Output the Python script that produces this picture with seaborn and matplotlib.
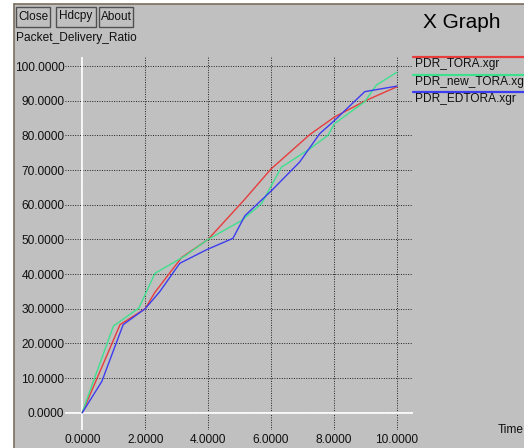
import numpy as np
import pandas as pd
import matplotlib
matplotlib.use("Agg")
import matplotlib.pyplot as plt
from matplotlib.patches import Rectangle
from matplotlib.lines import Line2D
import seaborn as sns

# traced series (time vs packet delivery ratio)
tora_x = [0, 1.2, 2.0, 2.3, 3.15, 4.0, 5.17, 6.0, 7.23, 8.02, 9.03, 10.0]
tora_y = [0, 25.4, 30, 34.6, 44.7, 50, 61.6, 70.3, 80.2, 85.3, 90.1, 94]

new_tora_x = [0, 0.14, 0.99, 1.8, 2.31, 3.26, 4.0, 5.06, 5.7, 6.01, 6.33, 7.23, 7.81, 8.02, 8.98, 9.35, 10.0]
new_tora_y = [0, 3.7, 25, 30.2, 40.2, 45.2, 50, 55.4, 60.3, 65.5, 70.8, 76.1, 80, 83.4, 89.7, 94.5, 98.2]

edtora_x = [0, 0.62, 1.3, 2.0, 2.47, 3.1, 3.95, 4.79, 5.17, 6.01, 6.91, 7.55, 8.02, 8.98, 10.0]
edtora_y = [0, 9, 25.4, 30, 35, 43.1, 47, 50.3, 56.8, 64, 72.3, 80.5, 84.3, 92.6, 94.2]

series_names = ["PDR_TORA.xgr", "PDR_new_TORA.xgr", "PDR_EDTORA.xgr"]
series_colors = ["#e83c3c", "#3ee08e", "#3c3cf0"]

x_ticks = [0, 2, 4, 6, 8, 10]
y_ticks = [0, 10, 20, 30, 40, 50, 60, 70, 80, 90, 100]

df = pd.concat([
    pd.DataFrame({"time": tora_x, "pdr": tora_y, "file": series_names[0]}),
    pd.DataFrame({"time": new_tora_x, "pdr": new_tora_y, "file": series_names[1]}),
    pd.DataFrame({"time": edtora_x, "pdr": edtora_y, "file": series_names[2]}),
])

sns.set_theme(style="white")
plt.rcParams["font.family"] = ["Liberation Sans", "DejaVu Sans"]

BG = "#c0c0c0"
W, H = 524, 448
fig = plt.figure(figsize=(W / 100, H / 100), dpi=100, facecolor=BG)

def px(x, y):
    # pixel coords (from top-left) to figure fraction
    return x / W, 1 - y / H

# window frame: white strip left/top with dark edge
fig.patches.append(Rectangle((0, 0), 14 / W, 1, transform=fig.transFigure,
                             facecolor="white", edgecolor="none", zorder=0))
fig.patches.append(Rectangle((0, 1 - 4.5 / H), 1, 4.5 / H, transform=fig.transFigure,
                             facecolor="white", edgecolor="none", zorder=0))
fig.lines.append(Line2D([14 / W, 14 / W], [0, 1 - 4.5 / H], transform=fig.transFigure,
                        color="#7a6f60", lw=1.2))
fig.lines.append(Line2D([14 / W, 1], [1 - 4.5 / H, 1 - 4.5 / H], transform=fig.transFigure,
                        color="#7a6f60", lw=1.2))

# buttons
for label, x0, x1 in [("Close", 16, 50), ("Hdcpy", 56, 96), ("About", 99, 133)]:
    l, b = px(x0, 27)
    fig.patches.append(Rectangle((l, b), (x1 - x0) / W, 20 / H, transform=fig.transFigure,
                                 facecolor=BG, edgecolor="#505050", lw=1.0))
    cx, cy = px((x0 + x1) / 2, 16.5)
    fig.text(cx, cy, label, ha="center", va="center", fontsize=8.5, color="#101010")

fig.text(*px(16, 38), "Packet_Delivery_Ratio", ha="left", va="center", fontsize=8.6, color="#101010")
fig.text(*px(462, 22), "X Graph", ha="center", va="center", fontsize=15, color="#000000")
fig.text(*px(498, 430), "Time", ha="left", va="center", fontsize=8.6, color="#101010")

# plotting area
left, top, right, bottom = 65, 57, 413, 429.5
ax = fig.add_axes([left / W, 1 - bottom / H, (right - left) / W, (bottom - top) / H])
ax.set_facecolor("none")
for s in ax.spines.values():
    s.set_visible(False)

sns.lineplot(data=df, x="time", y="pdr", hue="file", palette=series_colors,
             hue_order=series_names, sort=False, estimator=None, lw=1.0,
             legend=False, ax=ax, zorder=3)

ax.set_xlim(-0.55, 10.515)
ax.set_ylim(-4.85, 102.6)
ax.set_xticks(x_ticks)
ax.set_yticks(y_ticks)
ax.set_xticklabels([f"{v:.4f}" for v in x_ticks], fontsize=8.6, color="#101010")
ax.set_yticklabels([f"{v:.4f}" for v in y_ticks], fontsize=8.6, color="#101010")
ax.tick_params(axis="both", length=0)
ax.tick_params(axis="y", pad=0.5)
ax.tick_params(axis="x", pad=3)
ax.grid(True, color="#202020", linestyle=(0, (1, 1.5)), linewidth=0.7)
ax.axhline(0, color="white", lw=1.3, zorder=2)
ax.axvline(0, color="white", lw=1.3, zorder=2)
ax.set_xlabel("")
ax.set_ylabel("")

# legend drawn xgraph style: coloured bar above each file name
for i, (name, col) in enumerate(zip(series_names, series_colors)):
    ly = 57 + i * 17.7
    fig.lines.append(Line2D([413 / W, 1], [1 - ly / H, 1 - ly / H], transform=fig.transFigure,
                            color=col, lw=1.6))
    fig.text(*px(414.5, ly + 7), name, ha="left", va="center", fontsize=8.6, color="#101010")

fig.savefig("out.png", dpi=100, facecolor=BG)
